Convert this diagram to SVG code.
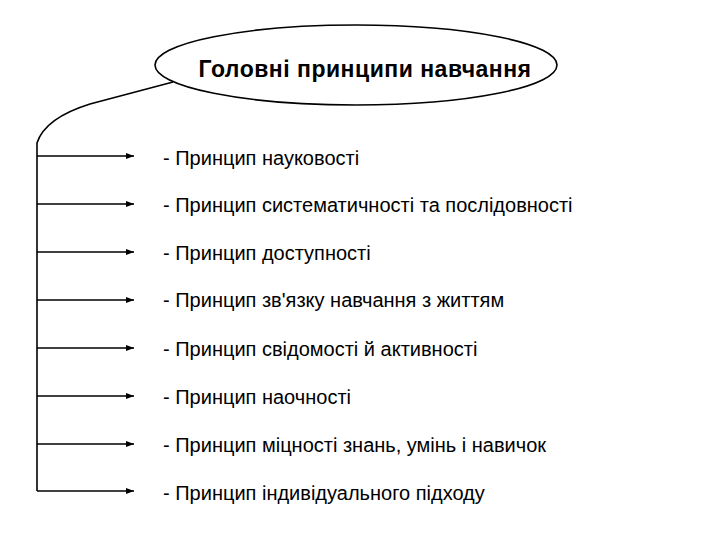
<svg xmlns="http://www.w3.org/2000/svg" width="720" height="540" viewBox="0 0 720 540">
<defs>
<marker id="ah" markerWidth="8" markerHeight="6" refX="8" refY="3" orient="auto" markerUnits="userSpaceOnUse">
<path d="M0,0 L8,3 L0,6 Z" fill="#000"/>
</marker>
<style>
.t{font-family:"Liberation Sans",Arial,sans-serif;font-size:20px;fill:#000}
.h{font-family:"Liberation Sans",Arial,sans-serif;font-size:23px;font-weight:bold;letter-spacing:0.5px;fill:#000}
.c{stroke:#000;stroke-width:1.6;fill:none}
</style>
</defs>
<rect width="720" height="540" fill="#fff"/>
<g id="title">
<ellipse cx="356" cy="65" rx="201" ry="40" fill="#fff" stroke="#000" stroke-width="1.6"/>
<text class="h" x="365" y="77" text-anchor="middle">Головні принципи навчання</text>
</g>
<g id="connectors">
<path class="c" d="M173,82 L90,104 Q45,118 37,143 L37,491"/>
<line class="c" x1="37" y1="156" x2="134" y2="156" marker-end="url(#ah)"/>
<line class="c" x1="37" y1="204" x2="134" y2="204" marker-end="url(#ah)"/>
<line class="c" x1="37" y1="252" x2="134" y2="252" marker-end="url(#ah)"/>
<line class="c" x1="37" y1="300" x2="134" y2="300" marker-end="url(#ah)"/>
<line class="c" x1="37" y1="348" x2="134" y2="348" marker-end="url(#ah)"/>
<line class="c" x1="37" y1="396" x2="134" y2="396" marker-end="url(#ah)"/>
<line class="c" x1="37" y1="444" x2="134" y2="444" marker-end="url(#ah)"/>
<line class="c" x1="37" y1="491" x2="134" y2="491" marker-end="url(#ah)"/>
</g>
<g id="n1"><text class="t" x="163" y="165">- Принцип науковості</text></g>
<g id="n2"><text class="t" x="163" y="212">- Принцип систематичності та послідовності</text></g>
<g id="n3"><text class="t" x="163" y="260">- Принцип доступності</text></g>
<g id="n4"><text class="t" x="163" y="307">- Принцип зв'язку навчання з життям</text></g>
<g id="n5"><text class="t" x="163" y="356">- Принцип свідомості й активності</text></g>
<g id="n6"><text class="t" x="163" y="404">- Принцип наочності</text></g>
<g id="n7"><text class="t" x="163" y="452">- Принцип міцності знань, умінь і навичок</text></g>
<g id="n8"><text class="t" x="163" y="500">- Принцип індивідуального підходу</text></g>
</svg>
